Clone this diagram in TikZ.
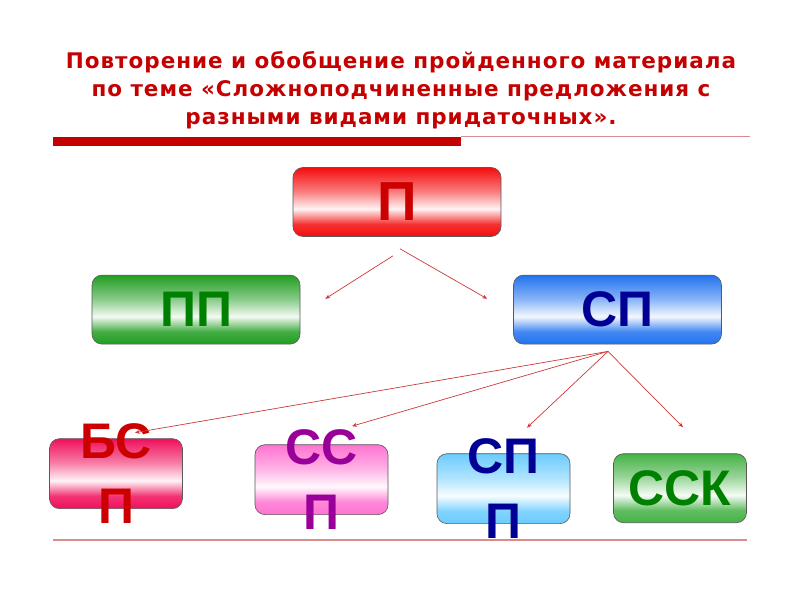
\documentclass[tikz,border=0pt]{standalone}
\usepackage{fontspec}
\setmainfont{Liberation Sans}
\newfontfamily\titlefont[LetterSpace=4.5]{DejaVu Sans}
\usepackage{tikz}
\usetikzlibrary{positioning,arrows.meta,calc}
\definecolor{titlered}{rgb}{0.77,0.0,0.0}
\definecolor{rulered}{rgb}{0.85,0.55,0.55}
\definecolor{arrowred}{rgb}{0.80,0.22,0.22}
\definecolor{boxred}{rgb}{0.96,0.05,0.05}
\definecolor{boxgreen}{rgb}{0.13,0.62,0.13}
\definecolor{boxblue}{rgb}{0.13,0.45,0.94}
\definecolor{boxrose}{rgb}{0.94,0.06,0.36}
\definecolor{boxpink}{rgb}{1.0,0.45,0.82}
\definecolor{boxsky}{rgb}{0.42,0.80,1.0}
\definecolor{boxlime}{rgb}{0.27,0.70,0.27}
\definecolor{txtred}{rgb}{0.80,0.0,0.0}
\definecolor{txtgreen}{rgb}{0.0,0.50,0.0}
\definecolor{txtnavy}{rgb}{0.0,0.0,0.58}
\definecolor{txtpurple}{rgb}{0.60,0.0,0.60}
\colorlet{glosscol}{red}
\pgfdeclareverticalshading[glosscol]{glossy}{100bp}{color(0bp)=(glosscol);
  color(25bp)=(glosscol); color(34bp)=(glosscol!85!white);
  color(45bp)=(glosscol!5!white); color(58bp)=(glosscol!55!white);
  color(75bp)=(glosscol); color(100bp)=(glosscol)}

\begin{document}
\begin{tikzpicture}[
  x=1pt, y=1pt,
  box/.style={draw=black!65, rounded corners=10pt, line width=0.6pt, align=center,
    font=\bfseries\fontsize{50}{65}\selectfont, inner sep=0pt},
  wide/.style={box, minimum width=208pt, minimum height=69pt},
  narrow/.style={box, minimum width=133pt, minimum height=69pt, inner ysep=-15pt},
  gloss/.style={/utils/exec={\colorlet{glosscol}{#1}}, shading=glossy},
  arrow/.style={-{Stealth[length=5pt,width=4pt]}, draw=arrowred, line width=0.7pt}
]
\useasboundingbox (0,0) rectangle (800,600);

% title and rules
\node[font=\titlefont\bfseries\fontsize{21.5}{28}\selectfont, text=titlered, align=center]
  (title) at (401,510) {Повторение и обобщение пройденного материала\\
  по теме «Сложноподчиненные предложения с\\разными видами придаточных».};
\fill[titlered] (53,463) rectangle (461,454);
\draw[rulered, line width=1pt] (461,463) -- (750,463);
\draw[rulered, line width=2pt] (53,60) -- (747,60);

% boxes
\node[wide, gloss=boxred, text=txtred, font=\bfseries\fontsize{55}{65}\selectfont]
  (p) at (397,398) {П};
\node[wide, gloss=boxgreen, text=txtgreen, below=38pt of p, xshift=-201pt] (pp) {ПП};
\node[wide, gloss=boxblue, text=txtnavy, below=38pt of p, xshift=220.5pt] (sp) {СП};

\node[narrow, gloss=boxrose, text=txtred, below=94pt of pp, xshift=-80pt] (bsp) {БС\\П};
\node[narrow, gloss=boxpink, text=txtpurple, below=100pt of pp, xshift=125.5pt] (ssp) {СС\\П};
\node[narrow, gloss=boxsky, text=txtnavy, below=109pt of sp, xshift=-114pt] (spp) {СП\\П};
\node[narrow, gloss=boxlime, text=txtgreen, below=109pt of sp, xshift=62.5pt] (ssk) {ССК};

% arrows
\draw[arrow] ($(p.south)+(-4,-19)$) -- ($(pp.north east)+(25,-24)$);
\draw[arrow] ($(p.south)+(3,-12)$) -- ($(sp.north west)+(-26,-24)$);
\coordinate (hub) at ($(sp.south)+(-9.5,-7)$);
\draw[arrow] (hub) -- ($(bsp.center)+(19,41)$);
\draw[arrow] (hub) -- ($(ssp.center)+(30.5,53.5)$);
\draw[arrow] (hub) -- ($(spp.center)+(23.5,61)$);
\draw[arrow] (hub) -- ($(ssk.center)+(3,61)$);
\end{tikzpicture}
\end{document}
